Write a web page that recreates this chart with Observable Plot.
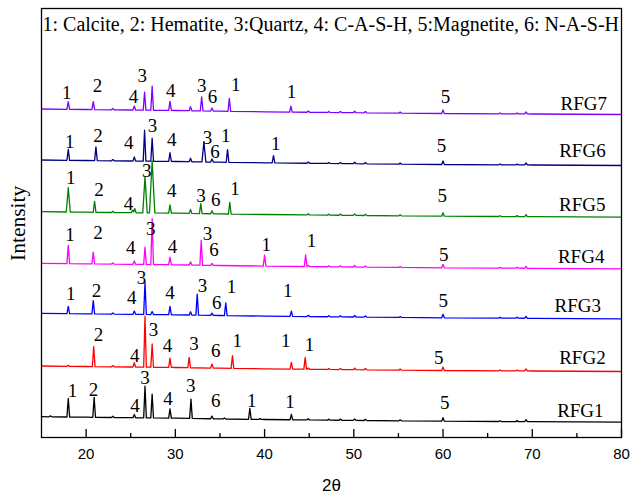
<!DOCTYPE html>
<html><head><meta charset="utf-8">
<script src="https://cdn.jsdelivr.net/npm/d3@7"></script>
<script src="https://cdn.jsdelivr.net/npm/@observablehq/plot@0.6"></script>
<style>body{margin:0;background:#fff}</style>
</head><body><div id="chart"></div>
<script>
const samples = ["RFG1","RFG2","RFG3","RFG4","RFG5","RFG6","RFG7"];
const colors = ["#000000","#ff0000","#0000ff","#ff00ff","#008000","#000080","#8000ff"];
const offsets = [15.3, 66, 118.7, 168.7, 220.3, 272, 323];
const legendText = "1: Calcite, 2: Hematite, 3:Quartz, 4: C-A-S-H, 5:Magnetite, 6: N-A-S-H";
const majorTicks = [20,30,40,50,60,70,80];
const minorTicks = [25,35,45,55,65,75];

// background (2θ, intensity above series offset)
const background = [[15,5.5],[20,5],[25,4.5],[30,4],[35,3.3],[40,2.7],[50,1.8],[60,1],[70,0.5],[80,0]];
// small reflections common to all patterns [2θ, height]
const minorPeaks = [[23.0,1.2],[44.9,1.2],[47.2,1],[48.5,1.2],[50.1,1.5],[51.3,1.2],[55.2,1],[60.0,3.5],[66.4,0.8],[68.3,1],[69.3,2]];

// peaks [2θ, height, half-width]
const peaksRFG1 = [[16.0,1],[18.0,18.7],[20.9,20],[25.4,3.3],[26.6,31.7],[27.4,23.7],[29.4,9.3],[31.75,19.3],[34.1,2.7],[35.5,1],[38.35,11],[39.5,1],[43.0,5.3]];
const peaksRFG2 = [[18.0,1],[20.85,20],[25.4,4.3],[26.6,51],[27.4,23.3],[29.4,9.3],[31.55,10.3],[34.1,4],[36.4,12.7],[43.0,6.7],[44.55,11.7]];
const peaksRFG3 = [[18.0,7.3],[20.8,13.3],[25.4,3.3],[26.6,32.3],[27.4,3],[29.4,8.3],[31.7,3.3],[32.45,21],[34.1,2.3],[35.65,12.7],[43.0,5.2]];
const peaksRFG4 = [[18.0,18.3],[20.8,11.7],[25.4,3.3],[26.6,17.3],[27.4,46],[29.4,7.7],[31.7,3.3],[32.9,25],[34.1,2],[40.0,11],[44.6,11.7]];
const peaksRFG5 = [[18.0,24.3,0.22],[20.95,11],[25.2,2.5],[25.45,4.3],[26.6,36,0.25],[27.4,52,0.3],[29.4,8.3],[31.7,4],[32.85,10],[34.1,3],[36.1,11.7]];
const peaksRFG6 = [[18.0,11],[21.1,13.7],[25.4,4],[26.55,31],[27.4,23],[29.4,8.7],[31.7,3.5],[33.2,20,0.22],[34.1,3],[35.85,12.7],[41.0,7.3]];
const peaksRFG7 = [[18.0,7.7],[20.8,8],[25.4,4],[26.55,18],[27.4,24],[29.4,9],[31.7,4],[32.95,14],[34.1,3],[36.05,13],[42.95,6]];
const peakSets = [peaksRFG1,peaksRFG2,peaksRFG3,peaksRFG4,peaksRFG5,peaksRFG6,peaksRFG7];

// phase labels [text, 2θ, height above offset]
const labelsRFG1 = [["1",18.47,25.7],["2",20.82,26.7],["4",25.48,10],["3",26.6,38.4],["4",29.18,17.7],["3",31.72,30],["6",34.52,15],["1",38.55,15.7],["1",42.84,14],["5",60.2,13.4]];
const labelsRFG2 = [["2",21.38,31],["4",25.45,9.3],["3",27.54,36],["4",29.11,19.3],["3",32.09,21.7],["6",34.52,15],["1",36.95,25],["1",42.36,24.3],["1",45.04,21],["5",59.52,7.7]];
const labelsRFG3 = [["1",18.28,19],["2",21.16,21.6],["4",25.11,15],["3",26.2,35],["4",29.4,20],["3",33.03,26.6],["6",34.63,10],["1",36.28,26],["1",42.61,21.6],["5",60.02,11.6]];
const labelsRFG4 = [["1",18.2,28.3],["2",21.34,30],["4",25.0,15],["3",27.24,34.3],["4",29.67,16],["3",33.59,29.3],["6",34.33,12.6],["1",40.2,18.3],["1",45.27,21.6],["5",60.08,8.3]];
const labelsRFG5 = [["1",18.28,33.4],["2",21.45,21.7],["4",24.74,7.4],["3",26.79,40],["4",29.59,20.7],["3",32.87,15],["6",34.52,11],["1",36.68,22.7],["5",59.9,15]];
const labelsRFG6 = [["1",18.17,17.7],["2",21.34,24],["4",24.78,16.7],["3",27.43,33.3],["4",29.59,20],["3",33.59,21.7],["6",34.44,7.7],["1",35.64,23.3],["1",41.24,15.7],["5",59.83,13.3]];
const labelsRFG7 = [["1",17.83,15.7],["2",21.27,22.3],["4",25.3,11.3],["3",26.3,33],["4",29.48,17.3],["3",32.95,22.3],["6",34.15,11.3],["1",36.76,23.3],["1",43.03,16.7],["5",60.27,11.3]];
const labelSets = [labelsRFG1,labelsRFG2,labelsRFG3,labelsRFG4,labelsRFG5,labelsRFG6,labelsRFG7];

// sample name positions [2θ, height above offset]
const namePos = [[75.39,5.7],[75.62,7.7],[75.09,6.6],[75.48,5.6],[75.6,6],[75.62,8.3],[75.77,4.7]];

const bg = d3.scaleLinear(background.map(d => d[0]), background.map(d => d[1]));
function pattern(peaks) {
  const all = peaks.concat(minorPeaks).map(([p, h, w = 0.15]) => ({p, h, w}));
  const xs = new Set(background.map(d => d[0]));
  for (const k of all) { xs.add(k.p - k.w); xs.add(k.p); xs.add(k.p + k.w); }
  return [...xs].filter(x => x >= 15 && x <= 80).sort((a, b) => a - b)
    .map(x => ({x, y: bg(x) + d3.sum(all, k => Math.max(0, k.h * (1 - Math.abs(x - k.p) / k.w)))}));
}

const lineData = samples.flatMap((s, i) => pattern(peakSets[i]).map(d => ({sample: s, x: d.x, y: offsets[i] + d.y})));
const labelData = samples.flatMap((s, i) => labelSets[i].map(([t, x, y]) => ({text: t, x, y: offsets[i] + y})));
const nameData = samples.map((s, i) => ({text: s, x: namePos[i][0], y: offsets[i] + namePos[i][1]}));

const serif = "'Liberation Serif','Times New Roman',serif";
const sans = "'Liberation Sans',Arial,sans-serif";

const chart = Plot.plot({
  width: 630, height: 494,
  marginTop: 8, marginBottom: 57, marginLeft: 41, marginRight: 9,
  x: {domain: [15, 80]},
  y: {domain: [0, 429], axis: null},
  color: {domain: samples, range: colors},
  style: {background: "#fff", overflow: "visible"},
  marks: [
    Plot.line(lineData, {x: "x", y: "y", z: "sample", stroke: "sample", strokeWidth: 1.3}),
    Plot.text(labelData, {x: "x", y: "y", text: "text", lineAnchor: "bottom", fontSize: 19, fontFamily: serif, fill: "#000"}),
    Plot.text(nameData, {x: "x", y: "y", text: "text", lineAnchor: "bottom", fontSize: 19, fontFamily: serif, fill: "#000"}),
    Plot.text([legendText], {text: d => d, frameAnchor: "top-left", textAnchor: "start", lineAnchor: "bottom", dx: 1, dy: 22, fontSize: 20, fontFamily: serif, fill: "#000"}),
    Plot.text(["Intensity"], {text: d => d, frameAnchor: "left", rotate: -90, dx: -23, dy: 38, fontSize: 21.5, fontFamily: serif, fill: "#000"}),
    Plot.text(["2θ"], {text: d => d, frameAnchor: "bottom", lineAnchor: "bottom", dy: 53, fontSize: 17, fontFamily: sans, fill: "#000"}),
    Plot.axisX({ticks: majorTicks, tickSize: -8, tickPadding: 19, fontSize: 15, fontFamily: sans, label: null, stroke: "#000", strokeWidth: 1.3, color: "#000"}),
    Plot.axisX({ticks: minorTicks, tickSize: -4, tickFormat: () => "", label: null, stroke: "#000", strokeWidth: 1.3}),
    Plot.frame({stroke: "#000", strokeWidth: 1.3})
  ]
});
document.getElementById("chart").appendChild(chart);
</script>
</body></html>
